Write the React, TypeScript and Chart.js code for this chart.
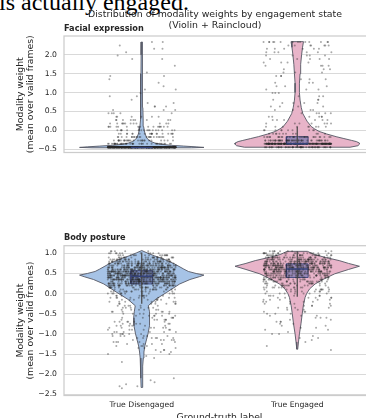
import React, { useEffect, useRef } from "react";
import { Chart, registerables } from "chart.js";

Chart.register(...registerables);
Chart.defaults.font.family = "'DejaVu Sans', sans-serif";

// ---------- data ----------
const categories = ["True Disengaged", "True Engaged"];
const suptitleLines = ["Distribution of modality weights by engagement state", "(Violin + Raincloud)"];
const panelTitles = ["Facial expression", "Body posture"];
const yTitle = ["Modality weight", "(mean over valid frames)"];
const xTitle = "Ground-truth label";
const strayText = "is actually engaged.";

const facialTicks = [-0.5, 0, 0.5, 1, 1.5, 2];
const postureTicks = [1, 0.5, 0, -0.5, -1, -1.5, -2, -2.5];
const facialRange = [-0.59, 2.5];
const postureRange = [-2.53, 1.19];

// violin density profiles: [value, half-width (category units)]
type Profile = [number, number][];
const facialDisViolin: Profile = [
  [-0.465, 0.32], [-0.455, 0.4], [-0.44, 0.35], [-0.42, 0.27], [-0.4, 0.19], [-0.37, 0.12],
  [-0.34, 0.085], [-0.3, 0.06], [-0.25, 0.042], [-0.2, 0.032], [-0.1, 0.022], [0.0, 0.016],
  [0.1, 0.012], [0.3, 0.009], [0.6, 0.007], [1.0, 0.006], [1.5, 0.005], [2.0, 0.004], [2.34, 0.003],
];
const facialEngViolin: Profile = [
  [-0.45, 0.34], [-0.41, 0.39], [-0.37, 0.4], [-0.34, 0.4], [-0.3, 0.38], [-0.27, 0.35],
  [-0.22, 0.3], [-0.17, 0.25], [-0.1, 0.19], [-0.03, 0.14], [0.04, 0.11], [0.1, 0.09],
  [0.24, 0.063], [0.44, 0.036], [0.6, 0.026], [0.8, 0.018], [1.0, 0.014], [1.25, 0.014],
  [1.5, 0.018], [1.75, 0.022], [2.0, 0.028], [2.2, 0.034], [2.35, 0.04],
];
const postureDisViolin: Profile = [
  [-2.33, 0.004], [-2.1, 0.005], [-1.8, 0.007], [-1.6, 0.01], [-1.45, 0.014], [-1.3, 0.02],
  [-1.15, 0.03], [-1.0, 0.04], [-0.8, 0.05], [-0.6, 0.052], [-0.45, 0.048], [-0.3, 0.042],
  [-0.14, 0.09], [0.03, 0.16], [0.24, 0.244], [0.35, 0.31], [0.42, 0.37], [0.46, 0.4],
  [0.5, 0.35], [0.55, 0.3], [0.61, 0.27], [0.74, 0.21], [0.86, 0.14], [0.94, 0.08],
  [1.01, 0.035], [1.07, 0.0],
];
const postureEngViolin: Profile = [
  [-1.38, 0.003], [-1.2, 0.008], [-1.0, 0.014], [-0.75, 0.024], [-0.5, 0.032], [-0.3, 0.039],
  [-0.1, 0.05], [0.0, 0.06], [0.12, 0.08], [0.24, 0.115], [0.36, 0.17], [0.49, 0.24],
  [0.6, 0.33], [0.68, 0.4], [0.75, 0.33], [0.82, 0.27], [0.9, 0.18], [0.97, 0.11], [1.05, 0.065],
];

// box stats: [whiskerLow, q1, median, q3, whiskerHigh]
const facialBoxes = [
  [-0.455, -0.455, -0.455, -0.455, -0.455],
  [-0.45, -0.36, -0.36, -0.17, 0.09],
];
const postureBoxes = [
  [-0.25, 0.24, 0.43, 0.57, 1.02],
  [-0.08, 0.4, 0.61, 0.74, 1.05],
];

// raincloud points: value levels and how many observations sit at each level
const facialLevels = [
  -0.45, -0.36, -0.27, -0.18, -0.09, 0.0, 0.09, 0.18, 0.27, 0.36,
  0.45, 0.54, 0.63, 0.72, 0.81, 0.9, 0.99, 1.08, 1.17, 1.26,
  1.35, 1.44, 1.53, 1.62, 1.71, 1.8, 1.89, 1.98, 2.07, 2.16,
  2.25, 2.34,
];
const facialDisCounts = [
  650, 40, 28, 24, 20, 18, 16, 12, 9, 6,
  5, 3, 3, 2, 1, 2, 1, 2, 1, 1,
  1, 2, 1, 0, 1, 0, 2, 1, 1, 2,
  1, 2,
];
const facialEngCounts = [
  60, 220, 50, 30, 12, 10, 9, 7, 6, 6,
  5, 4, 4, 4, 3, 3, 3, 3, 3, 3,
  3, 3, 3, 3, 4, 4, 5, 5, 6, 6,
  7, 14,
];
const postureLevels = [
  -2.35, -2.3, -2.25, -2.2, -2.15, -2.1, -2.05, -2.0, -1.95, -1.9,
  -1.85, -1.8, -1.75, -1.7, -1.65, -1.6, -1.55, -1.5, -1.45, -1.4,
  -1.35, -1.3, -1.25, -1.2, -1.15, -1.1, -1.05, -1.0, -0.95, -0.9,
  -0.85, -0.8, -0.75, -0.7, -0.65, -0.6, -0.55, -0.5, -0.45, -0.4,
  -0.35, -0.3, -0.25, -0.2, -0.15, -0.1, -0.05, 0.0, 0.05, 0.1,
  0.15, 0.2, 0.25, 0.3, 0.35, 0.4, 0.45, 0.5, 0.55, 0.6,
  0.65, 0.7, 0.75, 0.8, 0.85, 0.9, 0.95, 1.0, 1.05,
];
const postureDisCounts = [
  1, 2, 1, 1, 1, 1, 0, 0, 0, 0,
  0, 0, 0, 1, 0, 1, 1, 2, 2, 3,
  3, 4, 4, 5, 5, 6, 6, 6, 6, 6,
  6, 6, 6, 6, 6, 6, 6, 6, 6, 6,
  6, 6, 7, 7, 8, 9, 10, 12, 14, 17,
  24, 36, 50, 60, 66, 70, 72, 70, 66, 61,
  54, 48, 42, 35, 29, 22, 16, 11, 5,
];
const postureEngCounts = [
  0, 0, 0, 0, 0, 0, 0, 0, 0, 0,
  0, 0, 0, 0, 0, 0, 0, 0, 0, 1,
  0, 1, 0, 1, 1, 2, 1, 2, 1, 2,
  2, 2, 2, 3, 2, 3, 3, 3, 3, 3,
  4, 4, 4, 5, 5, 6, 6, 7, 8, 10,
  12, 14, 17, 20, 23, 28, 33, 40, 48, 55,
  58, 57, 52, 45, 38, 32, 26, 20, 9,
];

// ---------- styles ----------
const violinFills = ["#a6c3e6", "#e8b4c9"];
const violinEdge = "rgba(85,88,100,0.9)";
const boxFill = "rgba(95,105,170,0.6)";
const boxEdge = "rgba(55,65,120,0.85)";
const medianColor = "#34427a";
const whiskerColor = "#454545";
const pointColor = "rgba(40,40,40,0.4)";
const gridColor = "#d9d9d9";
const frameColor = "#cccccc";
const textColor = "#262626";
const JITTER = 0.22;
const BOX_HALF = 0.07;

function violinPolygon(center: number, profile: Profile) {
  const right = profile.map(([v, w]) => ({ x: center + w, y: v }));
  const left = profile.slice().reverse().map(([v, w]) => ({ x: center - w, y: v }));
  const pts = [...right, ...left];
  pts.push({ ...pts[0] });
  return pts;
}

function boxPolygon(center: number, q1: number, q3: number) {
  return [
    { x: center - BOX_HALF, y: q1 },
    { x: center + BOX_HALF, y: q1 },
    { x: center + BOX_HALF, y: q3 },
    { x: center - BOX_HALF, y: q3 },
    { x: center - BOX_HALF, y: q1 },
  ];
}

// deterministic strip-plot jitter (horizontal offset only; values are untouched)
function jitterUnit(k: number, seed: number) {
  let h = Math.imul(k + 1, 0x9e3779b1) ^ Math.imul(seed + 7, 0x85ebca6b);
  h ^= h >>> 16;
  h = Math.imul(h, 0x7feb352d);
  h ^= h >>> 15;
  h = Math.imul(h, 0x846ca68b);
  h ^= h >>> 16;
  return (h >>> 0) / 4294967296;
}

function stripPoints(center: number, levels: number[], counts: number[], seed: number) {
  const pts: { x: number; y: number }[] = [];
  let k = 0;
  levels.forEach((v, i) => {
    for (let n = 0; n < counts[i]; n++) {
      const f = jitterUnit(k, seed);
      pts.push({ x: center + (f - 0.5) * 2 * JITTER, y: v });
      k++;
    }
  });
  return pts;
}

function fmt(v: number) {
  return v.toFixed(1).replace("-", "\u2212");
}

function buildDatasets(violins: Profile[], boxes: number[][], levels: number[], counts: number[][], seed: number) {
  const ds: any[] = [];
  categories.forEach((_, i) => {
    const [wlo, q1, med, q3, whi] = boxes[i];
    ds.push({
      data: violinPolygon(i, violins[i]), fill: "shape", backgroundColor: violinFills[i],
      borderColor: violinEdge, borderWidth: 1, pointRadius: 0, tension: 0, order: 5,
    });
    ds.push({
      data: boxPolygon(i, q1, q3), fill: "shape", backgroundColor: boxFill,
      borderColor: boxEdge, borderWidth: 1, pointRadius: 0, tension: 0, order: 4,
    });
    ds.push({
      data: stripPoints(i, levels, counts[i], seed * 10 + i), showLine: false, pointRadius: 1,
      pointBackgroundColor: pointColor, pointBorderWidth: 0, order: 3,
    });
    ds.push({
      data: [{ x: i, y: wlo }, { x: i, y: whi }], borderColor: whiskerColor, borderWidth: 1.2,
      pointRadius: 0, fill: false, order: 2,
    });
    ds.push({
      data: [{ x: i - BOX_HALF, y: med }, { x: i + BOX_HALF, y: med }], borderColor: medianColor,
      borderWidth: 1.5, pointRadius: 0, fill: false, order: 1,
    });
  });
  return ds;
}

function makeConfig(p: {
  violins: Profile[]; boxes: number[][]; levels: number[]; counts: number[][];
  range: number[]; ticks: number[]; title: string; top: boolean; padTop: number; seed: number;
}): any {
  const textPlugin = {
    id: "panelTexts",
    beforeDatasetsDraw(chart: any) {
      const { ctx, chartArea } = chart;
      ctx.save();
      ctx.strokeStyle = frameColor;
      ctx.lineWidth = 1.25;
      ctx.strokeRect(chartArea.left, chartArea.top, chartArea.right - chartArea.left, chartArea.bottom - chartArea.top);
      ctx.restore();
    },
    afterDraw(chart: any) {
      const { ctx, chartArea } = chart;
      ctx.save();
      ctx.fillStyle = textColor;
      ctx.textBaseline = "middle";
      ctx.textAlign = "left";
      ctx.font = "bold 8.2px 'DejaVu Sans'";
      ctx.fillText(p.title, chartArea.left, chartArea.top - 7.5);
      if (p.top) {
        ctx.textAlign = "center";
        ctx.font = "9.4px 'DejaVu Sans'";
        suptitleLines.forEach((line, i) => ctx.fillText(line, chart.width / 2, 15 + i * 10.5));
      }
      ctx.restore();
    },
  };
  return {
    type: "line",
    data: { datasets: buildDatasets(p.violins, p.boxes, p.levels, p.counts, p.seed) },
    options: {
      responsive: false,
      animation: false,
      events: [],
      layout: { padding: { left: 0, top: p.padTop, right: 55, bottom: p.top ? 13 : 0 } },
      plugins: { legend: { display: false }, tooltip: { enabled: false } },
      scales: {
        x: {
          type: "linear",
          min: -0.5,
          max: 1.5,
          display: !p.top,
          grid: { display: false, drawTicks: false },
          border: { display: false },
          afterBuildTicks: (s: any) => { s.ticks = categories.map((_, i) => ({ value: i })); },
          afterFit: (s: any) => { s.height = 34.5; },
          ticks: {
            autoSkip: false, maxRotation: 0, padding: 5, color: textColor,
            font: { size: 7.7 }, callback: (v: number) => categories[Math.round(v)],
          },
          title: {
            display: true, text: xTitle, color: textColor, font: { size: 9.3 },
            padding: { top: 0, bottom: 6.9 },
          },
        },
        y: {
          type: "linear",
          min: p.range[0],
          max: p.range[1],
          afterBuildTicks: (s: any) => { s.ticks = p.ticks.map((v) => ({ value: v })); },
          afterFit: (s: any) => { s.width = 64; },
          grid: { color: gridColor, lineWidth: 1, drawTicks: false },
          border: { display: false },
          ticks: { padding: 7, color: textColor, font: { size: 7.7 }, callback: (v: number) => fmt(v) },
          title: {
            display: true, text: yTitle, color: textColor,
            font: { size: 9.3, lineHeight: 1.1 }, padding: { top: 15.6, bottom: 0 },
          },
        },
      },
    },
    plugins: [textPlugin],
  };
}

export default function App() {
  const refA = useRef<HTMLCanvasElement>(null);
  const refB = useRef<HTMLCanvasElement>(null);

  useEffect(() => {
    const a = new Chart(refA.current as HTMLCanvasElement, makeConfig({
      violins: [facialDisViolin, facialEngViolin], boxes: facialBoxes, levels: facialLevels,
      counts: [facialDisCounts, facialEngCounts], range: facialRange, ticks: facialTicks,
      title: panelTitles[0], top: true, padTop: 36, seed: 1,
    }));
    const b = new Chart(refB.current as HTMLCanvasElement, makeConfig({
      violins: [postureDisViolin, postureEngViolin], boxes: postureBoxes, levels: postureLevels,
      counts: [postureDisCounts, postureEngCounts], range: postureRange, ticks: postureTicks,
      title: panelTitles[1], top: false, padTop: 45.7, seed: 2,
    }));
    return () => { a.destroy(); b.destroy(); };
  }, []);

  return (
    <div style={{ position: "fixed", left: 0, top: 0, width: 366, height: 418, overflow: "hidden", background: "#fff" }}>
      <div style={{
        position: "absolute", left: -1, top: -10, fontFamily: "'Liberation Serif', serif",
        fontSize: 24, lineHeight: "24px", whiteSpace: "nowrap", color: "#000",
      }}>{strayText}</div>
      <canvas ref={refA} width={430} height={200}
        style={{ position: "absolute", left: 0, top: 0, width: 430, height: 200 }} />
      <canvas ref={refB} width={430} height={230}
        style={{ position: "absolute", left: 0, top: 200, width: 430, height: 230 }} />
    </div>
  );
}
